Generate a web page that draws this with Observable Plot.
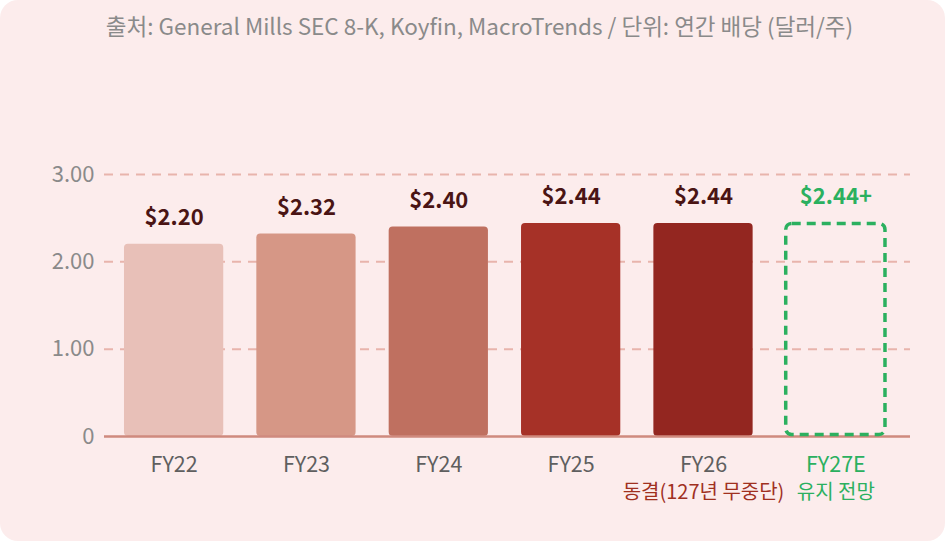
<!DOCTYPE html>
<html>
<head>
<meta charset="utf-8">
<script src="https://cdn.jsdelivr.net/npm/d3@7"></script>
<script src="https://cdn.jsdelivr.net/npm/@observablehq/plot@0.6"></script>
<style>
  html, body { margin: 0; padding: 0; background: #ffffff; }
  #card {
    width: 945px; height: 541px; background: #fcecec; border-radius: 18px;
    font-family: "Noto Sans CJK KR", "Noto Sans", sans-serif; overflow: hidden;
  }
  #title {
    height: 50px; line-height: 50px; text-align: center; font-size: 22.5px; color: #8a8a8a;
    padding-left: 14px;
  }
</style>
</head>
<body>
<div id="card">
  <div id="title">출처: General Mills SEC 8-K, Koyfin, MacroTrends / 단위: 연간 배당 (달러/주)</div>
  <div id="chart"></div>
</div>
<script>
const years = ["FY22", "FY23", "FY24", "FY25", "FY26", "FY27E"];
const dividends = [2.20, 2.32, 2.40, 2.44, 2.44, 2.44];
const valueLabels = ["$2.20", "$2.32", "$2.40", "$2.44", "$2.44", "$2.44+"];
const notes = ["", "", "", "", "동결(127년 무중단)", "유지 전망"];
const barColors = ["#e8c0b8", "#d69786", "#bf7060", "#a63127", "#932620", "none"];
const yTicks = [0, 1, 2, 3];

const green = "#2bb05f";
const rows = years.map((fy, i) => ({
  fy, value: dividends[i], label: valueLabels[i], note: notes[i], color: barColors[i],
  estimate: fy.endsWith("E")
}));
const actual = rows.filter(d => !d.estimate);
const est = rows.filter(d => d.estimate);

const chart = Plot.plot({
  width: 945,
  height: 490,
  marginLeft: 104,
  marginRight: 35,
  marginTop: 124,
  marginBottom: 104,
  style: { fontFamily: "Noto Sans CJK KR, Noto Sans, sans-serif", background: "transparent", overflow: "visible" },
  x: { domain: years, paddingInner: 0.25, paddingOuter: 0.17, align: 0.444, round: false, axis: null },
  y: { domain: [0, 3], axis: null },
  marks: [
    Plot.gridY(yTicks.filter(t => t > 0), { stroke: "#e8b4ac", strokeOpacity: 1, strokeWidth: 2, strokeDasharray: "9,7" }),
    Plot.text(yTicks, {
      y: d => d, frameAnchor: "left", text: d => d === 0 ? "0" : d.toFixed(2),
      textAnchor: "end", dx: -10, fontSize: 22, fill: "#8a8a8a"
    }),
    Plot.barY(actual, { x: "fy", y: "value", fill: "color", rx: 4 }),
    Plot.ruleY([0], { stroke: "#cf8a7e", strokeWidth: 2.5 }),
    Plot.barY(est, {
      x: "fy", y: "value", fill: "none", stroke: green, strokeWidth: 3.5,
      strokeDasharray: "9,6", rx: 6, insetTop: 0.5, insetBottom: 1.5
    }),
    Plot.text(rows, {
      x: "fy", y: "value", text: "label", dy: -26, fontSize: 22, fontWeight: 700,
      fill: d => d.estimate ? green : "#4a1414"
    }),
    Plot.text(rows, {
      x: "fy", y: 0, text: "fy", dy: 29, fontSize: 21.5,
      fill: d => d.estimate ? green : "#5f5f5f"
    }),
    Plot.text(rows.filter(d => d.note), {
      x: "fy", y: 0, text: "note", dy: 56, fontSize: 20,
      fill: d => d.estimate ? green : "#a0301f"
    })
  ]
});
document.getElementById("chart").append(chart);
</script>
</body>
</html>
